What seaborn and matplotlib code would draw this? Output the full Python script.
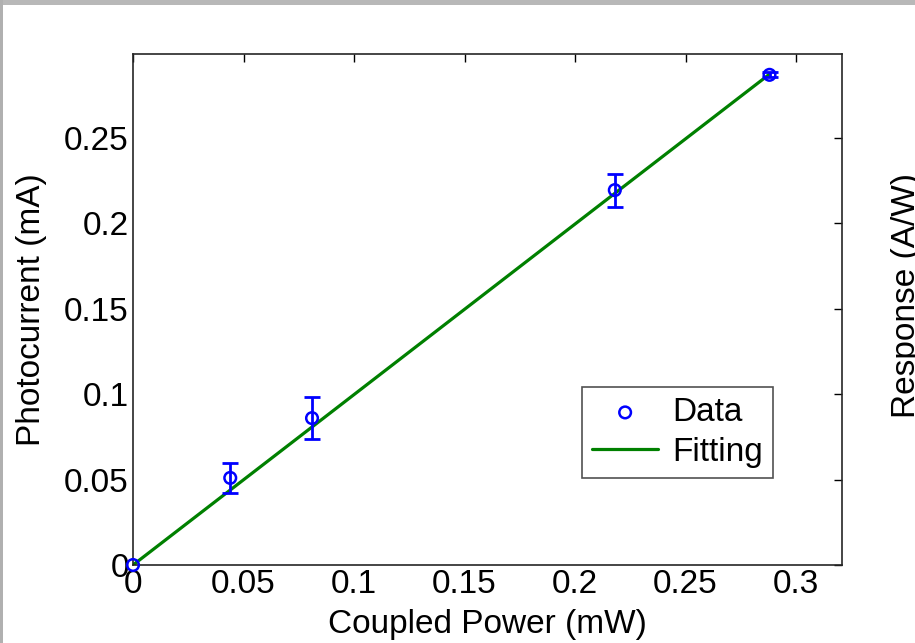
import numpy as np
import pandas as pd
import matplotlib
matplotlib.use("Agg")
import matplotlib.pyplot as plt
from matplotlib.patches import Rectangle
from matplotlib.ticker import FuncFormatter
import seaborn as sns

# -----------------------------
# DATA
# -----------------------------
power_mw = [0.0, 0.044, 0.081, 0.218, 0.288]
current_ma = [0.0, 0.051, 0.086, 0.2195, 0.287]
current_err = [0.0, 0.0088, 0.0123, 0.0097, 0.0015]

fit_power = [0.0, 0.044, 0.081, 0.218, 0.288]
fit_current = [0.0, 0.0439, 0.0808, 0.2176, 0.2874]

x_ticks = [0, 0.05, 0.1, 0.15, 0.2, 0.25, 0.3]
y_ticks = [0, 0.05, 0.1, 0.15, 0.2, 0.25]

df = pd.DataFrame({"power": power_mw, "current": current_ma, "err": current_err})
fit_df = pd.DataFrame({"power": fit_power, "current": fit_current})

# -----------------------------
# STYLE
# -----------------------------
sns.set_style("white")
plt.rcParams["font.family"] = ["Liberation Sans", "DejaVu Sans"]
plt.rcParams["text.color"] = "black"
plt.rcParams["axes.labelcolor"] = "black"
FS = 24

fig = plt.figure(figsize=(9.15, 6.43), dpi=100)
fig.patch.set_facecolor("white")

# grey slide border (top strip + left strip)
fig.patches.append(Rectangle((0, 1 - 5 / 643), 1, 5 / 643, transform=fig.transFigure,
                             facecolor="#b8b8b8", edgecolor="none", zorder=0))
fig.patches.append(Rectangle((0, 0), 3 / 915, 1, transform=fig.transFigure,
                             facecolor="#b0b0b0", edgecolor="none", zorder=0))

ax = fig.add_axes([133 / 915, 1 - 565 / 643, (842 - 133) / 915, (565 - 54) / 643])

# -----------------------------
# PLOT
# -----------------------------
sns.lineplot(data=fit_df, x="power", y="current", ax=ax, color="#008000",
             linewidth=2.3, label="Fitting", zorder=2)
ax.errorbar(df["power"][1:], df["current"][1:], yerr=df["err"][1:], fmt="none",
            ecolor="#0000ff", elinewidth=2, capsize=6, capthick=2, zorder=3)
sns.scatterplot(data=df, x="power", y="current", ax=ax, marker="o", s=70,
                facecolor="none", edgecolor="#0000ff", linewidth=1.8,
                label="Data", zorder=4, clip_on=False)

ax.set_xlim(0, 0.3208)
ax.set_ylim(0, 0.2992)
ax.set_xticks(x_ticks)
ax.set_yticks(y_ticks)
fmt = FuncFormatter(lambda v, p: "%g" % v)
ax.xaxis.set_major_formatter(fmt)
ax.yaxis.set_major_formatter(fmt)

ax.tick_params(direction="in", length=6, width=1, top=True, right=True,
               labelsize=FS, colors="black", pad=3)
for s in ax.spines.values():
    s.set_color("#262626")
    s.set_linewidth(1.2)

ax.set_xlabel("Coupled Power (mW)", fontsize=FS, labelpad=6)
ax.set_ylabel("Photocurrent (mA)", fontsize=FS, labelpad=12)

handles, labels = ax.get_legend_handles_labels()
order = [labels.index("Data"), labels.index("Fitting")]
leg = ax.legend([handles[i] for i in order], [labels[i] for i in order],
                loc="upper left", bbox_to_anchor=(0.633, 0.348), fontsize=FS,
                frameon=True, fancybox=False, edgecolor="#262626",
                handlelength=2.0, borderpad=0.3, labelspacing=0.25,
                handletextpad=0.4, borderaxespad=0)
leg.get_frame().set_linewidth(1.2)

# label of the neighbouring panel, cut off at the right edge
fig.text(891 / 915, 1 - 295 / 643, "Response (A/W)", rotation=90,
         ha="left", va="center", fontsize=FS)

plt.savefig("out.png", dpi=100)
